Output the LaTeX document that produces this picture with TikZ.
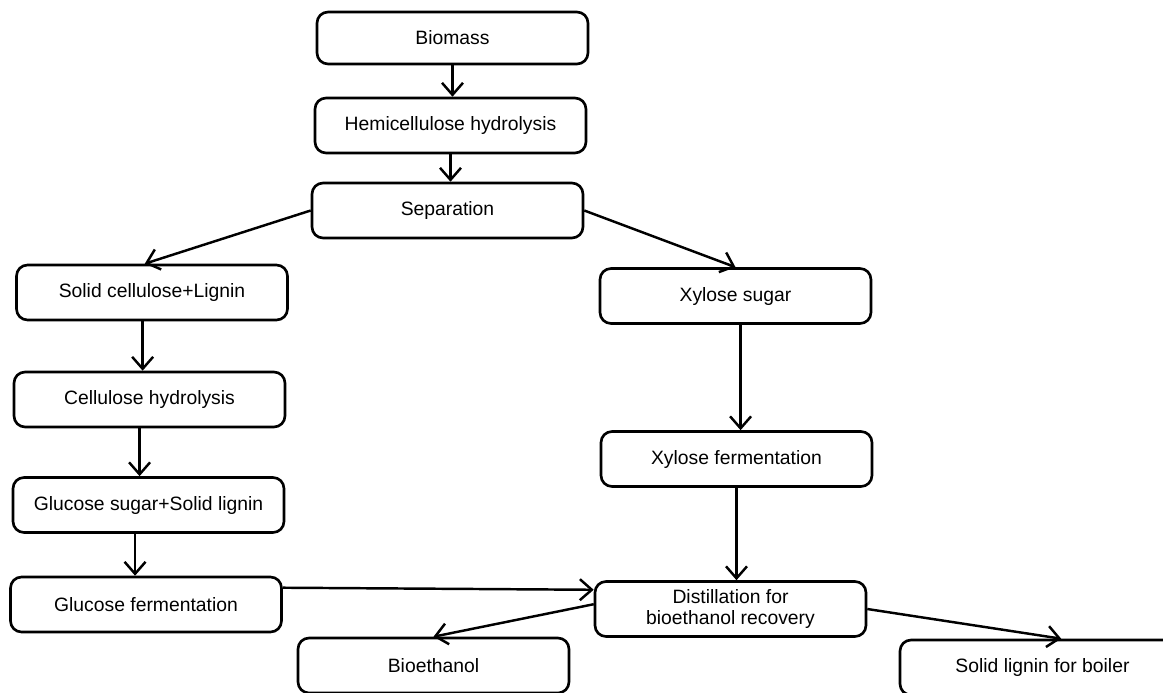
\documentclass[tikz,border=0pt]{standalone}
\usepackage{fontspec}
\setmainfont{Liberation Sans}
\usetikzlibrary{positioning,arrows.meta}
\tikzstyle{stage}=[rectangle,rounded corners=2.2mm,draw=black,line width=1.5pt,minimum width=5.42cm,minimum height=1.1cm,inner sep=1mm,font=\fontsize{11}{11.5}\selectfont,align=center]
\tikzstyle{flow}=[-{Straight Barb[length=2.4mm,width=4.2mm]},line width=1.4pt]

\begin{document}
\begin{tikzpicture}[x=0.02cm,y=-0.02cm]
  \useasboundingbox (0,0) rectangle (1163,693);

  \node [stage, minimum height=1.04cm] at (452.5, 38) (biomass) {Biomass};
  \node [stage] at (450.5, 125.5) (hemi) {Hemicellulose hydrolysis};
  \node [stage] at (447.5, 210.5) (sep) {Separation};

  \node [stage] at (152, 292.5) (solid) {Solid cellulose+Lignin};
  \node [stage] at (149.5, 399.5) (cellhyd) {Cellulose hydrolysis};
  \node [stage] at (148.5, 505) (gsugar) {Glucose sugar+Solid lignin};
  \node [stage] at (146, 604.5) (gferm) {Glucose fermentation};

  \node [stage] at (735.5, 296) (xsugar) {Xylose sugar};
  \node [stage] at (736.5, 459) (xferm) {Xylose fermentation};
  \node [stage] at (730.5, 609) (dist) {Distillation for\\bioethanol recovery};

  \node [stage] at (433.5, 665.5) (bio) {Bioethanol};
  \node [stage, minimum width=5.7cm] at (1042.5, 667.5) (lignin) {Solid lignin for boiler};

  \draw [flow] (biomass.south) -- (biomass.south |- hemi.north);
  \draw [flow] (hemi.south) -- (hemi.south |- sep.north);
  \draw [flow] (sep.west) -- (solid.104);
  \draw [flow] (sep.east) -- (xsugar.north);
  \draw [flow] (solid.-108) -- (solid.-108 |- cellhyd.north);
  \draw [flow] (cellhyd.-109) -- (cellhyd.-109 |- gsugar.north);
  \draw [flow] (gsugar.-115) -- (gsugar.-115 |- gferm.north);
  \draw [flow] (xsugar.-80) -- (xsugar.-80 |- xferm.north);
  \draw [flow] (xferm.south) -- (xferm.south |- dist.north);
  \draw [flow] (gferm.7) -- (dist.172);
  \draw [flow] (dist.178) -- (bio.north);
  \draw [flow] (dist.east) -- (lignin.57);
\end{tikzpicture}
\end{document}
